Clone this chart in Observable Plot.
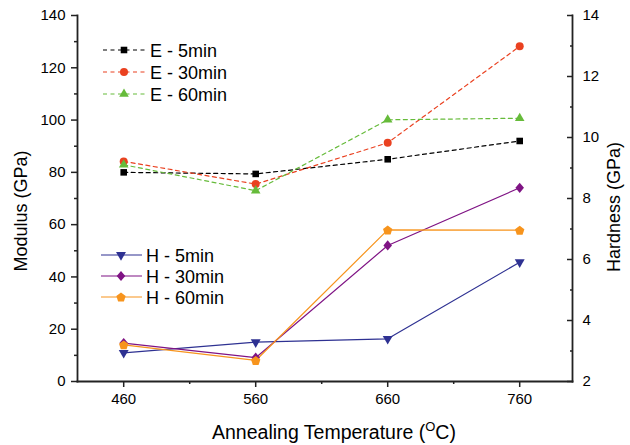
<!DOCTYPE html>
<html>
<head>
<meta charset="utf-8">
<script src="https://cdn.jsdelivr.net/npm/d3@7"></script>
<script src="https://cdn.jsdelivr.net/npm/@observablehq/plot@0.6"></script>
<style>
  html, body { margin: 0; padding: 0; background: #fff; }
  #chart { width: 630px; height: 445px; }
</style>
</head>
<body>
<div id="chart"></div>
<script>
// ---- data ----
const temps = [460, 560, 660, 760];
const E5  = [80.0, 79.4, 85.0, 92.0];
const E30 = [84.2, 75.5, 91.3, 128.2];
const E60 = [82.9, 73.0, 100.1, 100.7];
const H5  = [2.94, 3.29, 3.40, 5.91];
const H30 = [3.26, 2.78, 6.46, 8.35];
const H60 = [3.20, 2.69, 6.97, 6.96];
const xTicks = [460, 560, 660, 760];
const xMinor = [510, 610, 710];
const yTicks = [0, 20, 40, 60, 80, 100, 120, 140];
const yMinor = [10, 30, 50, 70, 90, 110, 130];
const hTicks = [2, 4, 6, 8, 10, 12, 14];
const hMinor = [3, 5, 7, 9, 11, 13];

// hardness (right axis 2..14) mapped onto modulus scale (0..140)
const hToY = h => (h - 2) * 140 / 12;

// custom symbols (size = r*r*PI)
const triDown = {
  draw(ctx, size) {
    const w = 1.4 * Math.sqrt(size);
    const h = w * 0.87;
    ctx.moveTo(-w / 2, -h / 3);
    ctx.lineTo(w / 2, -h / 3);
    ctx.lineTo(0, 2 * h / 3);
    ctx.closePath();
  }
};
const triUp = {
  draw(ctx, size) {
    const w = 1.35 * Math.sqrt(size);
    const h = w * 0.87;
    ctx.moveTo(-w / 2, h / 3);
    ctx.lineTo(w / 2, h / 3);
    ctx.lineTo(0, -2 * h / 3);
    ctx.closePath();
  }
};
const diamond = {
  draw(ctx, size) {
    const s = Math.sqrt(size);
    const hw = 0.62 * s, hh = 0.74 * s;
    ctx.moveTo(0, -hh);
    ctx.lineTo(hw, 0);
    ctx.lineTo(0, hh);
    ctx.lineTo(-hw, 0);
    ctx.closePath();
  }
};
const pentagon = {
  draw(ctx, size) {
    const r = 0.66 * Math.sqrt(size);
    for (let i = 0; i < 5; i++) {
      const a = -Math.PI / 2 + i * 2 * Math.PI / 5;
      const x = r * Math.cos(a), y = r * Math.sin(a) + r * 0.1;
      if (i === 0) ctx.moveTo(x, y); else ctx.lineTo(x, y);
    }
    ctx.closePath();
  }
};

const series = [
  {name: "E - 5min",  vals: E5,  color: "#000000", symbol: d3.symbolSquare, r: 3.7, dash: "4,3.5", hard: false},
  {name: "E - 30min", vals: E30, color: "#ea4120", symbol: d3.symbolCircle, r: 4.0, dash: "4,3.5", hard: false},
  {name: "E - 60min", vals: E60, color: "#66bb3a", symbol: triUp,           r: 4.0, dash: "4,3.5", hard: false},
  {name: "H - 5min",  vals: H5,  color: "#2e3192", symbol: triDown,         r: 4.0, dash: null, hard: true},
  {name: "H - 30min", vals: H30, color: "#7f1384", symbol: diamond,         r: 3.9, dash: null, hard: true},
  {name: "H - 60min", vals: H60, color: "#f7941d", symbol: pentagon,        r: 4.2, dash: null, hard: true}
];

const rows = [];
for (const s of series) {
  s.vals.forEach((v, i) => rows.push({series: s.name, t: temps[i], y: s.hard ? hToY(v) : v}));
}

const font = "'Liberation Sans', Arial, Helvetica, sans-serif";
const axisColor = "#222";

const marks = [];
for (const s of series) {
  const data = rows.filter(d => d.series === s.name);
  marks.push(Plot.line(data, {x: "t", y: "y", stroke: s.color, strokeWidth: 1.2, strokeDasharray: s.dash || undefined}));
}
for (const s of series) {
  const data = rows.filter(d => d.series === s.name);
  marks.push(Plot.dot(data, {x: "t", y: "y", fill: s.color, stroke: "none", symbol: () => s.symbol, r: s.r}));
}

const chart = Plot.plot({
  width: 630,
  height: 445,
  marginLeft: 77,
  marginRight: 58,
  marginTop: 15,
  marginBottom: 64,
  style: {fontFamily: font, fontSize: "15px", color: "#000", background: "#fff"},
  x: {domain: [425, 800]},
  y: {domain: [0, 140]},
  symbol: {type: "identity"},
  marks: [
    ...marks,
    Plot.axisX({ticks: xTicks, tickSize: 6, tickPadding: 6, strokeWidth: 1.5, stroke: axisColor, fontSize: 15, label: null, tickFormat: d => String(d)}),
    Plot.axisX({ticks: xMinor, tickSize: 3, strokeWidth: 1.5, stroke: axisColor, label: null, tickFormat: () => ""}),
    Plot.axisY({ticks: yTicks, tickSize: 6, tickPadding: 6, strokeWidth: 1.5, stroke: axisColor, fontSize: 15, label: null}),
    Plot.axisY({ticks: yMinor, tickSize: 3, strokeWidth: 1.5, stroke: axisColor, label: null, tickFormat: () => ""}),
    Plot.axisY({anchor: "right", ticks: hTicks.map(hToY), tickSize: -6, tickPadding: 16, strokeWidth: 1.5, stroke: axisColor, fontSize: 15, label: null, tickFormat: v => String(Math.round(2 + v * 12 / 140))}),
    Plot.axisY({anchor: "right", ticks: hMinor.map(hToY), tickSize: -3, strokeWidth: 1.5, stroke: axisColor, label: null, tickFormat: () => ""}),
    Plot.frame({anchor: "left", stroke: axisColor, strokeWidth: 1.8}),
    Plot.frame({anchor: "right", stroke: axisColor, strokeWidth: 1.8}),
    Plot.frame({anchor: "bottom", stroke: axisColor, strokeWidth: 1.8})
  ]
});

document.getElementById("chart").appendChild(chart);

// ---- titles & legends appended into the Plot SVG ----
const svg = d3.select(chart);
const g = svg.append("g").attr("font-family", font).attr("fill", "#000").attr("text-anchor", "start");

g.append("text").attr("transform", "translate(27,211) rotate(-90)")
  .attr("text-anchor", "middle").attr("font-size", 18).text("Modulus (GPa)");
g.append("text").attr("transform", "translate(620,207) rotate(-90)")
  .attr("text-anchor", "middle").attr("font-size", 18).text("Hardness (GPa)");
const xt = g.append("text").attr("x", 212).attr("y", 439).attr("font-size", 19.5).attr("text-anchor", "start");
xt.append("tspan").text("Annealing Temperature (");
xt.append("tspan").attr("font-size", 13).attr("dy", -8).text("O");
xt.append("tspan").attr("dy", 8).text("C)");

function legend(items, x0, x1, xm, xtext, ys) {
  items.forEach((s, i) => {
    const y = ys[i];
    g.append("line").attr("x1", x0).attr("x2", x1).attr("y1", y).attr("y2", y)
      .attr("stroke", s.color).attr("stroke-width", 1.2)
      .attr("stroke-dasharray", s.dash || null);
    g.append("path").attr("transform", `translate(${xm},${y})`)
      .attr("d", d3.symbol().type(s.symbol).size(s.r * s.r * Math.PI)())
      .attr("fill", s.color);
    g.append("text").attr("x", xtext).attr("y", y + 6.5).attr("font-size", 18)
      .attr("text-anchor", "start").text(s.name);
  });
}
legend(series.slice(0, 3), 103, 146, 124, 150, [50, 72, 94]);
legend(series.slice(3), 101, 142, 121, 146, [255, 276, 297]);
</script>
</body>
</html>
